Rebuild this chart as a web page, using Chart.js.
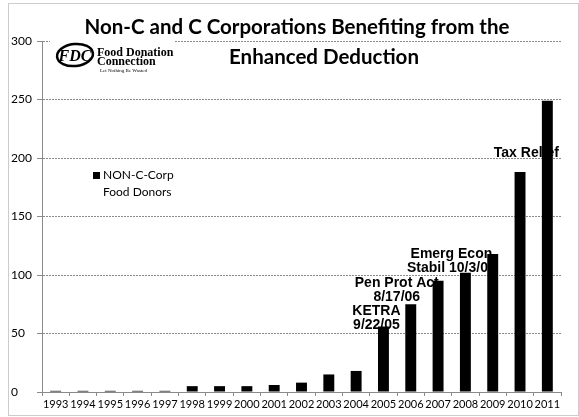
<!DOCTYPE html>
<html>
<head>
<meta charset="utf-8">
<script src="https://cdn.jsdelivr.net/npm/chart.js@4.4.1/dist/chart.umd.min.js"></script>
<style>
  html, body { margin: 0; padding: 0; background: #fff; }
  #wrap { width: 579px; height: 417px; }
</style>
</head>
<body>
<div id="wrap"><canvas id="chart" width="579" height="417"></canvas></div>
<script>
// Donateurs non-C-Corp par annee
const YEARS = ['1993', '1994', '1995', '1996', '1997', '1998', '1999', '2000', '2001', '2002',
  '2003', '2004', '2005', '2006', '2007', '2008', '2009', '2010', '2011'];
const DONORS = [1, 1, 1, 1, 1, 5, 5, 5, 6, 8, 15, 18, 56, 75, 95, 102, 118, 188, 249];
const LEGEND_LINES = ['NON-C-Corp', 'Food Donors'];
const TITLE_LINES = ['Non-C and C Corporations Benefiting from the', 'Enhanced Deduction'];
const Y_TICKS = [0, 50, 100, 150, 200, 250, 300];
const NOTES = [
  { year: '2005', value: 69, lines: ['KETRA', '9/22/05'] },
  { year: '2006', value: 93, lines: ['Pen Prot Act', '8/17/06'] },
  { year: '2008', value: 118, lines: ['Emerg Econ', 'Stabil 10/3/08'] },
  { year: '2011', value: 204, lines: ['Tax Relief'] }
];
const NOTE_DX = [-7, -14, -14, -21];

const GRID = '#8a8a8a';
const UI_FONT = "Lato, 'Open Sans', sans-serif";

// texte des evenements, dessine sous les barres
const notesPlugin = {
  id: 'notes',
  beforeDatasetsDraw(chart) {
    const { ctx, scales: { x, y } } = chart;
    ctx.save();
    ctx.fillStyle = '#000';
    ctx.font = "bold 14px 'Liberation Sans', Arial, sans-serif";
    ctx.textAlign = 'center';
    ctx.textBaseline = 'middle';
    NOTES.forEach((n, i) => {
      const cx = x.getPixelForValue(YEARS.indexOf(n.year)) + NOTE_DX[i];
      const cy = y.getPixelForValue(n.value);
      n.lines.forEach((t, k) => ctx.fillText(t, cx, cy + k * 14));
    });
    ctx.restore();
  }
};

// cadre, titre, logo, legende
const decorPlugin = {
  id: 'decor',
  afterDraw(chart) {
    const { ctx } = chart;
    ctx.save();

    // cadre pointille
    ctx.setLineDash([1, 1]);
    ctx.strokeStyle = '#999';
    ctx.lineWidth = 1;
    ctx.strokeRect(8.5, 3.5, 570, 412);
    ctx.setLineDash([]);

    // titre
    ctx.fillStyle = '#000';
    ctx.font = "bold 20.5px Lato, 'Open Sans', sans-serif";
    ctx.textAlign = 'center';
    ctx.textBaseline = 'alphabetic';
    ctx.fillText(TITLE_LINES[0], 297, 34);
    ctx.fillText(TITLE_LINES[1], 324, 64);

    // logo
    ctx.fillStyle = '#fff';
    ctx.fillRect(50, 38, 125, 40);
    ctx.strokeStyle = '#000';
    ctx.lineWidth = 2.5;
    ctx.beginPath();
    ctx.ellipse(75, 55, 18, 11, -0.1, 0, Math.PI * 2);
    ctx.stroke();
    ctx.fillStyle = '#000';
    ctx.font = "italic bold 16px 'Liberation Serif', serif";
    ctx.fillText('FDC', 75, 61);
    ctx.textAlign = 'left';
    ctx.font = "bold 12px 'Liberation Serif', serif";
    ctx.fillText('Food Donation', 97, 56);
    ctx.fillText('Connection', 97, 65);
    ctx.font = "5px 'Liberation Serif', serif";
    ctx.fillText('Let Nothing Be Wasted', 100, 72);

    // legende
    ctx.fillRect(93, 172, 7, 7);
    ctx.font = '12px ' + UI_FONT;
    ctx.textBaseline = 'middle';
    ctx.fillText(LEGEND_LINES[0], 103, 175);
    ctx.fillText(LEGEND_LINES[1], 103, 192);
    ctx.restore();
  }
};

new Chart(document.getElementById('chart'), {
  type: 'bar',
  data: {
    labels: YEARS,
    datasets: [{
      label: LEGEND_LINES.join(' '),
      data: DONORS,
      backgroundColor: '#000',
      borderWidth: 0,
      barPercentage: 0.8,
      categoryPercentage: 0.5
    }]
  },
  plugins: [notesPlugin, decorPlugin],
  options: {
    responsive: false,
    animation: false,
    layout: { padding: { left: 11, top: 41, right: 18, bottom: 0 } },
    plugins: { legend: { display: false }, tooltip: { enabled: false } },
    scales: {
      x: {
        afterFit: s => { s.height = 25; },
        ticks: { color: '#000', font: { family: UI_FONT, size: 11 }, autoSkip: false, maxRotation: 0, padding: 2 },
        grid: { drawOnChartArea: false, color: GRID, tickLength: 4 },
        border: { color: GRID }
      },
      y: {
        min: 0,
        max: 300,
        afterFit: s => { s.width = 31; },
        afterBuildTicks: s => { s.ticks = Y_TICKS.map(v => ({ value: v })); },
        ticks: { color: '#000', font: { family: UI_FONT, size: 12 }, crossAlign: 'far', padding: 2 },
        grid: { color: GRID, tickLength: 5, tickBorderDash: [] },
        border: { color: GRID, dash: [2, 1] }
      }
    }
  }
});
</script>
</body>
</html>
